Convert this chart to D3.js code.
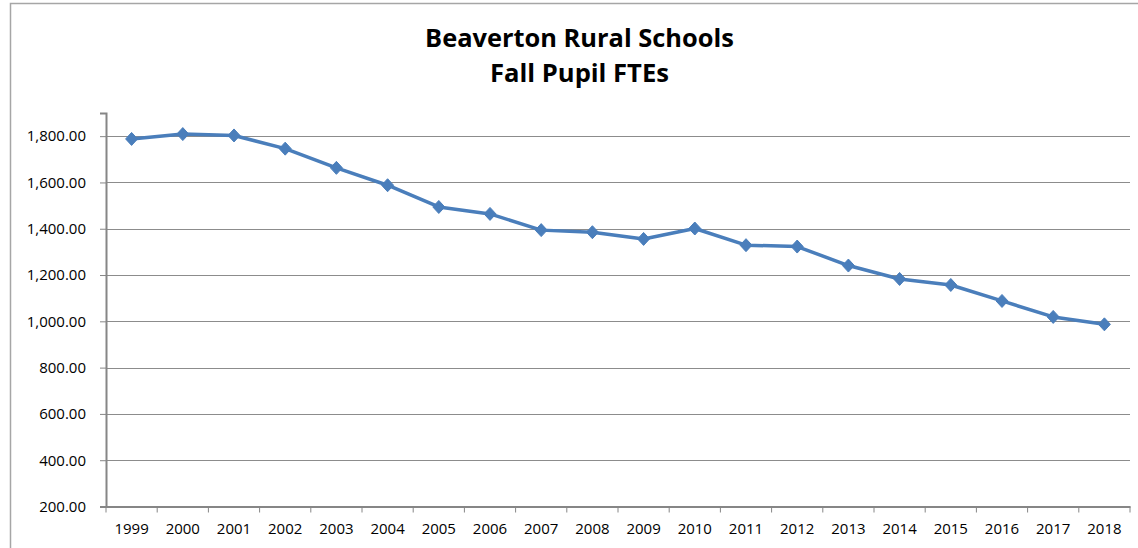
<!DOCTYPE html>
<html>
<head>
<meta charset="utf-8">
<script src="https://cdn.jsdelivr.net/npm/d3@7"></script>
<style>
  html, body { margin: 0; padding: 0; background: #fff; }
  svg { display: block; font-family: "Open Sans", "Liberation Sans", sans-serif; }
</style>
</head>
<body>
<div id="chart"></div>
<script>
// data
const years = ["1999", "2000", "2001", "2002", "2003", "2004", "2005", "2006", "2007", "2008",
               "2009", "2010", "2011", "2012", "2013", "2014", "2015", "2016", "2017", "2018"];
const ftes = [1788, 1809, 1803, 1746, 1663, 1588, 1494, 1464, 1394, 1385,
              1356, 1401, 1329, 1323, 1241, 1183, 1157, 1088, 1019, 987];
const yTicks = [200, 400, 600, 800, 1000, 1200, 1400, 1600, 1800];
const titleLines = ["Beaverton Rural Schools", "Fall Pupil FTEs"];

const width = 1138, height = 548;
const plot = { left: 106, right: 1130, top: 113, bottom: 506.5 };

const svg = d3.select("#chart").append("svg")
    .attr("width", width)
    .attr("height", height);

// chart frame (only top and left edges are inside the picture)
svg.append("path")
    .attr("d", `M10.5,${height} V3.5 H${width}`)
    .attr("fill", "none")
    .attr("stroke", "#a6a6a6")
    .attr("stroke-width", 1.5);

// title, sized to the reference width
const titleWidths = [309, 179];
const title = svg.append("g");
titleLines.forEach((t, i) => {
    const txt = title.append("text")
        .attr("x", 579.5)
        .attr("y", i === 0 ? 46.5 : 81.5)
        .attr("text-anchor", "middle")
        .attr("font-weight", "bold")
        .attr("font-size", 26)
        .attr("fill", "#000")
        .text(t);
    const w = txt.node().getComputedTextLength();
    txt.attr("font-size", 26 * titleWidths[i] / w);
});

const x = d3.scaleBand().domain(years).range([plot.left, plot.right]);
const y = d3.scaleLinear().domain([200, 1900]).range([plot.bottom, plot.top]);

// gridlines
svg.append("g")
    .selectAll("line")
    .data(yTicks.filter(d => d > 200))
    .join("line")
    .attr("x1", plot.left)
    .attr("x2", plot.right)
    .attr("y1", d => Math.round(y(d)) + 0.5)
    .attr("y2", d => Math.round(y(d)) + 0.5)
    .attr("stroke", "#8c8c8c")
    .attr("stroke-width", 1);

// y axis
const yAxis = svg.append("g")
    .attr("transform", `translate(${plot.left},0)`)
    .call(d3.axisLeft(y).tickValues(yTicks).tickSize(6).tickPadding(14)
        .tickFormat(d3.format(",.2f")));
yAxis.select(".domain").attr("stroke", "#868686").attr("stroke-width", 2);
yAxis.selectAll(".tick line").attr("stroke", "#868686");
yAxis.selectAll(".tick text")
    .attr("font-size", 15)
    .attr("fill", "#000")
    .attr("font-family", "'Open Sans', sans-serif");

// x axis with ticks between categories
const xAxis = svg.append("g")
    .attr("transform", `translate(0,${plot.bottom})`)
    .call(d3.axisBottom(x).tickSize(0).tickPadding(17));
xAxis.select(".domain").attr("stroke", "#868686").attr("stroke-width", 2);
xAxis.selectAll(".tick text")
    .attr("font-size", 15)
    .attr("fill", "#000")
    .attr("font-family", "'Open Sans', sans-serif");
xAxis.append("g")
    .selectAll("line")
    .data(years.map(d => x(d)).concat([plot.right]))
    .join("line")
    .attr("x1", d => d)
    .attr("x2", d => d)
    .attr("y1", 0)
    .attr("y2", 6)
    .attr("stroke", "#868686");

// series line
const cx = d => x(d) + x.bandwidth() / 2;
const line = d3.line()
    .x((d, i) => cx(years[i]))
    .y(d => y(d));

svg.append("path")
    .datum(ftes)
    .attr("d", line)
    .attr("fill", "none")
    .attr("stroke", "#4a7ebb")
    .attr("stroke-width", 3.5)
    .attr("stroke-linejoin", "round");

// diamond markers
svg.append("g")
    .selectAll("path")
    .data(ftes)
    .join("path")
    .attr("transform", (d, i) => `translate(${cx(years[i])},${y(d)})`)
    .attr("d", "M0,-6.5 L6,0 L0,6.5 L-6,0 Z")
    .attr("fill", "#4a7ebb")
    .attr("stroke", "#4a7ebb")
    .attr("stroke-width", 1);
</script>
</body>
</html>
